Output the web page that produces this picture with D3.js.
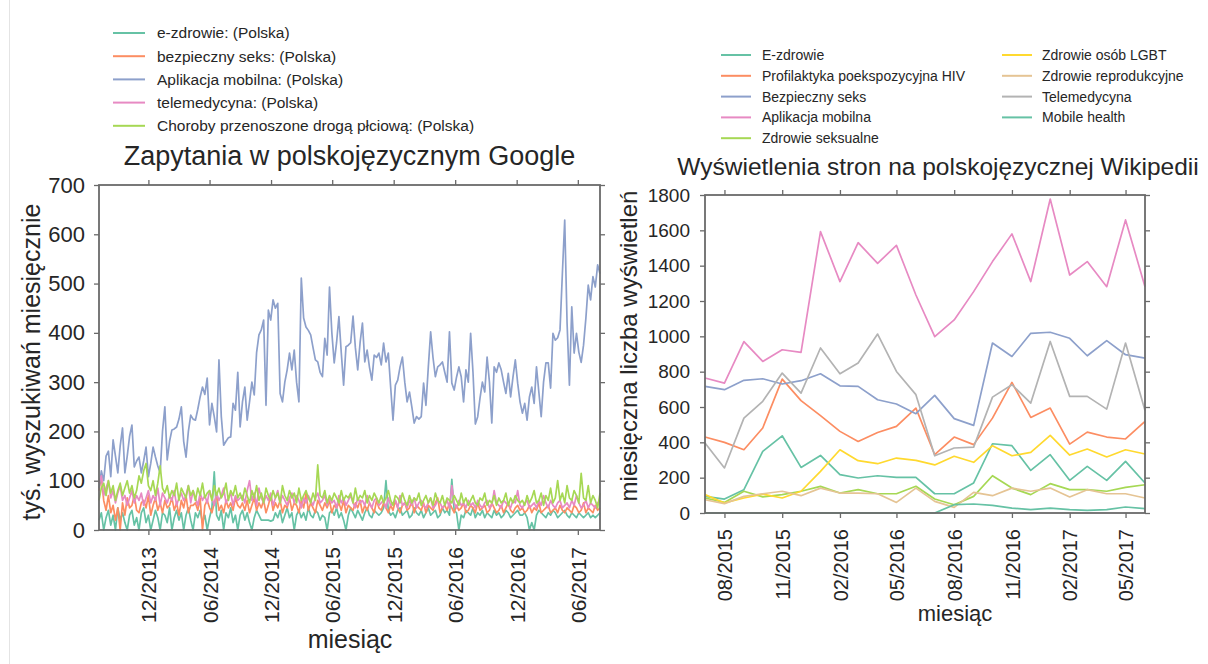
<!DOCTYPE html>
<html><head><meta charset="utf-8">
<script src="https://cdn.jsdelivr.net/npm/d3@7"></script>
<style>
body{margin:0;background:#fff}
svg{display:block}
text{font-family:"Liberation Sans",Arial,Helvetica,sans-serif;fill:#262626}
</style>
</head><body>
<svg id="c" width="1208" height="664"></svg>
<script>
// ---------------- LEFT CHART DATA (weekly, Google) ----------------
const googleStart = "2013-07-07";
const googleNames = ["e-zdrowie: (Polska)","bezpieczny seks: (Polska)","Aplikacja mobilna: (Polska)","telemedycyna: (Polska)","Choroby przenoszone drogą płciową: (Polska)"];
const googleEZdrowie = [20,35,0,25,40,10,30,0,45,20,35,15,0,30,40,10,25,0,35,45,15,30,0,20,40,25,0,35,30,15,45,0,25,40,20,35,0,30,45,20,0,35,25,40,15,30,0,25,45,118,30,20,40,0,35,25,45,15,30,0,
30,40,20,35,15,0,25,40,30,20,20,20,20,18,20,35,25,40,15,30,45,25,35,0,30,40,25,35,20,45,30,25,40,35,20,30,25,0,35,40,30,45,25,35,20,0,30,45,35,25,40,30,20,35,45,30,25,40,35,30,
35,45,100,40,30,35,25,40,45,30,35,40,25,30,45,35,30,40,25,35,45,30,35,40,25,30,45,35,40,30,103,40,35,0,30,25,40,35,30,45,25,35,30,40,25,35,30,25,40,30,35,25,30,40,35,25,30,35,40,30,
30,35,25,0,15,0,30,40,35,30,25,35,30,40,35,25,30,35,40,30,25,35,30,25,35,30,25,30,35,25,30,25,30,35];
const googleBezpiecznySeks = [80,110,60,40,70,35,50,20,45,0,55,30,65,45,50,70,40,35,55,60,45,70,30,50,65,40,55,35,60,45,50,65,40,55,30,60,45,70,35,50,50,55,40,65,0,50,60,45,35,55,70,40,50,35,60,45,55,40,65,50,
45,55,40,60,35,50,65,40,55,45,60,35,50,70,40,55,45,60,35,50,45,65,40,55,50,35,60,45,75,40,55,45,35,60,50,40,55,45,60,35,50,45,55,40,60,35,50,45,40,55,45,60,35,50,40,55,45,35,60,45,
40,55,45,35,50,40,60,45,35,50,55,40,45,60,35,50,45,40,55,35,50,45,40,55,65,35,45,50,40,55,45,35,50,40,45,55,35,40,50,45,35,55,40,45,50,35,40,55,45,35,40,50,35,45,55,40,35,45,50,40,
45,35,40,50,35,45,40,55,35,40,45,50,35,40,45,35,50,40,35,45,40,35,50,45,35,40,55,35,45,40,35,50,40,45];
const googleAplikacja = [85,120,100,150,160,108,183,150,116,170,207,116,150,190,213,128,140,148,116,140,168,108,135,168,148,130,116,200,250,142,180,203,205,209,225,250,180,148,200,233,225,223,245,270,290,275,308,213,257,230,199,345,230,172,180,187,189,257,243,320,
209,260,290,223,260,300,274,360,396,406,426,253,446,426,467,450,460,277,260,300,325,359,325,365,300,260,511,430,412,405,396,370,345,341,320,311,389,355,493,400,339,380,433,360,294,372,375,380,434,370,
325,380,420,341,365,330,304,355,350,359,335,379,341,359,290,223,294,304,331,351,300,260,280,250,217,230,225,230,298,253,330,402,350,311,331,335,341,320,300,402,298,284,310,331,311,260,325,300,
399,320,215,230,268,300,280,351,300,217,331,320,339,325,300,277,318,270,310,345,298,260,237,257,223,270,290,257,331,280,230,300,339,339,288,399,385,390,406,520,629,420,294,453,359,399,361,340,375,430,497,467,514,493,538,520];
const googleTelemedycyna = [95,110,70,85,100,65,80,55,75,90,60,70,50,65,80,55,70,60,75,50,65,80,55,70,60,85,50,75,65,55,70,60,80,50,65,75,60,70,90,55,80,65,50,75,60,70,55,80,65,50,75,60,70,85,55,65,75,50,70,60,
65,70,55,80,100,60,75,50,85,65,55,70,60,75,50,65,80,55,70,60,50,65,75,55,70,60,45,65,55,70,60,50,65,75,55,60,70,50,65,55,60,45,70,55,65,50,60,70,55,45,65,55,60,50,70,55,45,60,65,50,
55,60,45,65,50,55,60,45,70,50,55,45,60,50,65,45,55,60,50,45,55,65,45,50,60,55,45,50,60,45,90,55,45,60,50,55,45,60,50,55,45,60,50,45,55,60,45,50,80,55,50,45,60,55,50,45,60,55,80,50,
45,55,60,45,50,55,45,60,50,70,55,45,60,50,45,55,60,45,50,55,45,60,50,70,55,45,50,60,45,55,50,45,55,60];
const googleChoroby = [60,85,95,70,100,75,90,60,80,95,70,85,100,75,90,65,80,110,95,120,135,90,80,100,70,95,130,85,75,90,65,80,70,95,60,85,75,65,90,70,80,60,85,70,95,65,75,80,60,90,70,85,65,75,95,60,80,70,90,65,
75,60,85,70,55,80,65,90,60,75,55,85,70,60,80,65,75,55,90,70,60,80,65,75,55,85,60,70,80,65,55,75,60,132,70,65,80,55,70,60,75,65,55,80,60,70,65,75,55,85,60,70,65,80,55,70,60,75,65,55,
70,55,65,80,60,50,70,65,55,75,60,50,70,55,65,60,75,50,60,70,55,65,50,75,60,55,70,50,65,60,55,70,60,50,75,55,65,50,60,70,55,50,65,60,75,50,60,55,70,50,65,55,60,75,50,65,55,70,60,55,
60,50,70,55,65,80,55,60,75,50,70,60,85,55,65,100,60,75,55,90,65,60,80,70,55,115,65,60,90,55,70,60,45,75];
const googleYTicks = [0,100,200,300,400,500,600,700];
const googleXTicks = ["2013-12-01","2014-06-01","2014-12-01","2015-06-01","2015-12-01","2016-06-01","2016-12-01","2017-06-01"];

// ---------------- RIGHT CHART DATA (monthly, Wikipedia) ----------------
const wikiMonths = ["2015-07","2015-08","2015-09","2015-10","2015-11","2015-12","2016-01","2016-02","2016-03","2016-04","2016-05","2016-06","2016-07","2016-08","2016-09","2016-10","2016-11","2016-12","2017-01","2017-02","2017-03","2017-04","2017-05","2017-06"];
const wikiNames = ["E-zdrowie","Profilaktyka poekspozycyjna HIV","Bezpieczny seks","Aplikacja mobilna","Zdrowie seksualne","Zdrowie osób LGBT","Zdrowie reprodukcyjne","Telemedycyna","Mobile health"];
const wikiEZdrowie = [94,79,132,349,437,258,326,217,198,211,202,202,109,109,170,392,381,241,330,185,264,185,292,170];
const wikiProfilaktyka = [430,400,358,481,758,636,551,462,405,456,490,594,330,430,387,537,739,541,594,390,458,430,419,519];
const wikiBezpiecznySeks = [717,698,751,760,730,749,788,720,717,641,617,562,666,534,496,962,886,1017,1023,989,890,976,896,877];
const wikiAplikacja = [764,735,970,858,924,909,1593,1310,1530,1413,1515,1234,998,1093,1253,1423,1580,1310,1777,1347,1423,1281,1659,1281];
const wikiSeksualne = [85,60,123,91,104,123,151,113,132,109,109,151,79,47,94,211,141,104,166,132,132,123,145,160];
const wikiLGBT = [104,57,85,107,85,123,236,358,296,279,311,298,272,321,287,381,324,343,439,328,362,317,358,334];
const wikiReprodukcyjne = [75,53,94,109,123,98,141,113,113,109,60,141,66,32,117,98,141,123,141,91,132,109,109,85];
const wikiTelemedycyna = [396,255,537,632,792,679,934,788,849,1013,801,670,324,368,373,656,726,622,971,660,660,588,962,580];
const wikiMobileHealth = [0,0,0,0,0,0,0,0,0,0,0,0,0,47,51,43,28,19,28,19,15,19,34,25];
const wikiYTicks = [0,200,400,600,800,1000,1200,1400,1600,1800];
const wikiXTicks = ["2015-08-01","2015-11-01","2016-02-01","2016-05-01","2016-08-01","2016-11-01","2017-02-01","2017-05-01"];

const set2 = ["#66c2a5","#fc8d62","#8da0cb","#e78ac3","#a6d854","#ffd92f","#e5c494","#b3b3b3","#66c2a5"];

// ---------------- DRAW ----------------
const svg = d3.select("#c");
svg.append("rect").attr("width",1208).attr("height",664).attr("fill","#fff");
svg.append("line").attr("x1",9.5).attr("x2",9.5).attr("y1",0).attr("y2",664).attr("stroke","#e4e4e4").attr("stroke-width",1);

const parseDay = d3.utcParse("%Y-%m-%d");
const parseMonth = d3.utcParse("%Y-%m");
const fmt = d3.utcFormat("%m/%Y");
const yFmt = d3.format("d");
const SPINE = "#6a6a6a";

function frame(g, x, y, xTicks, yTicks, o) {
  const [x0,x1] = x.range(), [y0,y1] = y.range();
  const style = sel => {
    sel.select(".domain").remove();
    sel.selectAll(".tick line").attr("stroke",SPINE).attr("stroke-width",1.3);
  };
  const bottom = g.append("g").attr("transform",`translate(0,${y0})`)
    .call(d3.axisBottom(x).tickValues(xTicks).tickSize(5).tickFormat(fmt)).call(style);
  bottom.selectAll(".tick text")
    .attr("transform","rotate(-90)").attr("y",0).attr("x",-o.xPad).attr("dy","0.36em")
    .style("text-anchor","end").style("font-size",o.xFont+"px").attr("fill","#262626");
  g.append("g").attr("transform",`translate(0,${y1})`)
    .call(d3.axisTop(x).tickValues(xTicks).tickSize(5).tickFormat("")).call(style);
  const left = g.append("g").attr("transform",`translate(${x0},0)`)
    .call(d3.axisLeft(y).tickValues(yTicks).tickSize(5).tickPadding(o.yPad).tickFormat(yFmt)).call(style);
  left.selectAll(".tick text").style("font-size",o.yFont+"px").attr("fill","#262626");
  g.append("g").attr("transform",`translate(${x1},0)`)
    .call(d3.axisRight(y).tickValues(yTicks).tickSize(5).tickFormat("")).call(style);
  g.append("rect").attr("x",x0).attr("y",y1).attr("width",x1-x0).attr("height",y0-y1)
    .attr("fill","none").attr("stroke",SPINE).attr("stroke-width",1.8);
}

// LEFT
(function(){
  const series = [googleEZdrowie, googleBezpiecznySeks, googleAplikacja, googleTelemedycyna, googleChoroby];
  const start = parseDay(googleStart);
  const dateOf = i => d3.utcDay.offset(start, 7*i);
  const n = googleAplikacja.length;
  const x = d3.scaleUtc().domain([start, dateOf(n-1)]).range([99,600]);
  const y = d3.scaleLinear().domain([0,700]).range([530,185]);
  const g = svg.append("g");
  const line = d3.line().x((d,i)=>x(dateOf(i))).y(d=>y(d));
  series.forEach((s,k)=>{
    g.append("path").datum(s).attr("d",line).attr("fill","none")
      .attr("stroke",set2[k]).attr("stroke-width",1.7).attr("stroke-linejoin","round");
  });
  frame(g, x, y, googleXTicks.map(parseDay), googleYTicks, {xPad:17, yPad:9, xFont:21, yFont:22});
  g.append("text").attr("x",349.5).attr("y",165).attr("text-anchor","middle").style("font-size","27px")
    .text("Zapytania w polskojęzycznym Google");
  g.append("text").attr("x",350).attr("y",648).attr("text-anchor","middle").style("font-size","25px").text("miesiąc");
  g.append("text").attr("transform","translate(40,362) rotate(-90)").attr("text-anchor","middle")
    .style("font-size","25px").text("tyś. wyszukiwań miesięcznie");
  const lg = svg.append("g");
  googleNames.forEach((nm,k)=>{
    const yy = 33 + k*23.2;
    lg.append("line").attr("x1",113).attr("x2",145).attr("y1",yy).attr("y2",yy)
      .attr("stroke",set2[k]).attr("stroke-width",2);
    lg.append("text").attr("x",157).attr("y",yy).attr("dy","0.35em").style("font-size","15.5px").text(nm);
  });
})();

// RIGHT
(function(){
  const series = [wikiEZdrowie, wikiProfilaktyka, wikiBezpiecznySeks, wikiAplikacja, wikiSeksualne, wikiLGBT, wikiReprodukcyjne, wikiTelemedycyna, wikiMobileHealth];
  const dates = wikiMonths.map(parseMonth);
  const x = d3.scaleUtc().domain(d3.extent(dates)).range([705,1145]);
  const y = d3.scaleLinear().domain([0,1800]).range([513,195]);
  const g = svg.append("g");
  const line = d3.line().x((d,i)=>x(dates[i])).y(d=>y(d));
  series.forEach((s,k)=>{
    g.append("path").datum(s).attr("d",line).attr("fill","none")
      .attr("stroke",set2[k]).attr("stroke-width",1.7).attr("stroke-linejoin","round");
  });
  frame(g, x, y, wikiXTicks.map(parseDay), wikiYTicks, {xPad:16, yPad:10, xFont:20, yFont:19});
  g.append("text").attr("x",938).attr("y",175).attr("text-anchor","middle").style("font-size","24.5px")
    .text("Wyświetlenia stron na polskojęzycznej Wikipedii");
  g.append("text").attr("x",955).attr("y",621).attr("text-anchor","middle").style("font-size","22px").text("miesiąc");
  g.append("text").attr("transform","translate(637,346) rotate(-90)").attr("text-anchor","middle")
    .style("font-size","24px").text("miesięczna liczba wyświetleń");
  const lg = svg.append("g");
  wikiNames.forEach((nm,k)=>{
    const col = k < 5 ? 0 : 1, row = k < 5 ? k : k-5;
    const yy = 55 + row*20.8;
    const lx = col ? 1002 : 721, tx = col ? 1042 : 762;
    lg.append("line").attr("x1",lx).attr("x2",lx+30).attr("y1",yy).attr("y2",yy)
      .attr("stroke",set2[k]).attr("stroke-width",2);
    lg.append("text").attr("x",tx).attr("y",yy).attr("dy","0.35em").style("font-size","14px").text(nm);
  });
})();
</script>
</body></html>
